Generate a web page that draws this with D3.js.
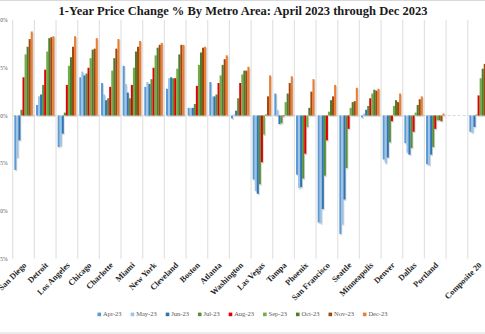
<!DOCTYPE html>
<html>
<head>
<meta charset="utf-8">
<script src="https://cdn.jsdelivr.net/npm/d3@7"></script>
<style>
    html, body { margin: 0; padding: 0; background: #fff; }
    svg { display: block; }
    .title { font-family: "Liberation Serif", "DejaVu Serif", serif; font-weight: bold; fill: #1a1a1a; }
    .y-axis text { font-family: "Liberation Serif", serif; font-size: 5.5px; fill: #595959; }
    .x-axis text { font-family: "Liberation Serif", serif; font-weight: bold; font-size: 8.3px; fill: #262626; }
    .legend text { font-family: "Liberation Serif", serif; font-size: 6.5px; fill: #595959; }
</style>
</head>
<body>
<script>
"use strict";

/*global d3*/

// Case-Shiller metro areas, left to right; "" leaves an empty slot before the composite
var categories = ["San Diego", "Detroit", "Los Angeles", "Chicago", "Charlotte", "Miami",
		  "New York", "Cleveland", "Boston", "Atlanta", "Washington", "Las Vegas",
		  "Tampa", "Phoenix", "San Francisco", "Seattle", "Minneapolis", "Denver",
		  "Dallas", "Portland", "", "Composite 20"],

    months = ["Apr-23", "May-23", "Jun-23", "Jul-23", "Aug-23", "Sep-23", "Oct-23", "Nov-23", "Dec-23"],

    // year-over-year change, % (one array per month, same order as categories)
    apr23 = [-5.7, 1.1, -3.3, 4.0, 3.4, 5.2, 3.0, 2.8, 0.8, 3.5, -0.3, -6.7, 2.3, -6.2, -11.2, -12.4, -0.2, -4.6, -2.9, -5.1, null, -1.7],
    may23 = [-4.4, 2.0, -3.2, 4.6, 2.2, 3.3, 3.5, 3.9, 0.8, 2.0, 0.1, -7.9, 0.6, -7.6, -11.3, -11.4, 0.2, -5.0, -3.9, -5.2, null, -1.8],
    jun23 = [-2.6, 2.2, -1.9, 4.2, 1.6, 2.4, 3.3, 4.0, 0.8, 2.0, 0.5, -8.2, -0.9, -7.5, -9.8, -8.8, 0.6, -4.4, -4.1, -4.1, null, -1.2],
    jul23 = [0.6, 3.2, 0.3, 4.4, 1.8, 1.8, 3.8, 3.9, 1.2, 2.2, 1.8, -7.2, -0.8, -6.6, -6.3, -5.5, 1.0, -2.8, -3.4, -3.3, null, 0.1],
    aug23 = [4.0, 4.8, 3.2, 5.0, 3.0, 3.2, 5.0, 3.9, 3.1, 3.4, 3.4, -4.9, -0.1, -4.0, -2.6, -1.4, 1.8, -0.6, -1.7, -1.4, null, 2.1],
    sep23 = [6.4, 6.7, 5.2, 6.0, 4.7, 5.0, 6.3, 4.9, 5.3, 4.2, 4.3, -2.0, 1.4, -1.2, 0.4, 0.8, 2.3, 1.0, 0.3, -0.5, null, 3.9],
    oct23 = [7.2, 8.1, 6.1, 6.9, 6.0, 6.7, 7.1, 6.4, 6.6, 5.3, 4.7, 0.1, 2.3, 0.8, 1.6, 1.4, 2.7, 1.6, 1.1, -0.5, null, 4.9],
    nov23 = [8.0, 8.2, 7.2, 7.0, 7.0, 7.2, 7.4, 7.4, 7.1, 5.9, 4.7, 2.0, 3.4, 2.5, 2.0, 1.5, 2.6, 1.4, 1.7, -0.6, null, 5.4],
    dec23 = [8.8, 8.3, 8.3, 8.1, 8.0, 7.8, 7.6, 7.4, 7.2, 6.3, 5.1, 4.2, 4.1, 3.8, 3.2, 2.9, 2.8, 2.3, 2.0, 0.2, null, 5.4],

    yTicks = [-15, -10, -5, 0, 5, 10],

    seriesValues = [apr23, may23, jun23, jul23, aug23, sep23, oct23, nov23, dec23],
    seriesColours = ["#5b9bd5", "#9dc3e6", "#2e75b6", "#5a8f3a", "#e00000",
		     "#70ad47", "#4e7d2e", "#9e480e", "#ed7d31"],

    width = 485,
    height = 334,
    plotLeft = 12.7,
    bandStep = 21.67,
    plotTop = 20,
    plotBottom = 258.7,
    groupPadding = 1.6;

var svg = d3.select("body").append("svg")
	.attr("width", width)
	.attr("height", height);

// chart area border
svg.append("rect")
    .attr("x", -1)
    .attr("y", 0.5)
    .attr("width", width + 2)
    .attr("height", height - 1.5)
    .attr("fill", "none")
    .attr("stroke", "#d9d9d9");

svg.append("text")
    .classed("title", true)
    .attr("x", 243)
    .attr("y", 14.5)
    .attr("text-anchor", "middle")
    .attr("font-size", 12.5)
    .text("1-Year Price Change % By Metro Area: April 2023 through Dec 2023");

var x0 = d3.scaleBand()
	.domain(categories)
	.range([plotLeft, plotLeft + bandStep * categories.length]),

    x1 = d3.scaleBand()
	.domain(months)
	.range([groupPadding, x0.bandwidth() - groupPadding]),

    y = d3.scaleLinear()
	.domain([-15, 10])
	.range([plotBottom, plotTop]);

// vertical gridlines between the metro groups
svg.append("g")
    .selectAll("line")
    .data(categories)
    .enter().append("line")
    .attr("x1", function(d) { return x0(d); })
    .attr("x2", function(d) { return x0(d); })
    .attr("y1", y(10))
    .attr("y2", y(-15))
    .attr("stroke", "#e2e2e2")
    .attr("stroke-width", 1.2);

svg.append("line")
    .attr("x1", plotLeft)
    .attr("x2", width)
    .attr("y1", y(0))
    .attr("y2", y(0))
    .attr("stroke", "#cfcfcf")
    .attr("stroke-width", 0.8)
    .attr("stroke-dasharray", "3,2");

var yAxis = svg.append("g")
	.classed("y-axis", true)
	.attr("transform", "translate(" + plotLeft + ",0)")
	.call(d3.axisLeft(y)
	      .tickValues(yTicks)
	      .tickSize(0)
	      .tickPadding(5)
	      .tickFormat(function(d) { return d + "%"; }));

yAxis.select(".domain").remove();

var xAxis = svg.append("g")
	.classed("x-axis", true)
	.attr("transform", "translate(0," + plotBottom + ")")
	.call(d3.axisBottom(x0).tickSize(0));

xAxis.select(".domain").remove();

xAxis.selectAll("text")
    .attr("x", 0)
    .attr("y", 0)
    .attr("dy", 0)
    .attr("text-anchor", "end")
    .attr("transform", "translate(3.5,7) rotate(-45)");

// one group per month; every bar carries a soft grey drop shadow
var series = svg.append("g")
	.selectAll("g.series")
	.data(months.map(function(m, i) {
	    return {
		month: m,
		colour: seriesColours[i],
		values: seriesValues[i]
	    };
	}))
	.enter().append("g")
	.classed("series", true);

var bars = series.selectAll("g.bar")
	.data(function(s) {
	    return s.values
		.map(function(v, i) {
		    return { month: s.month, colour: s.colour, category: categories[i], value: v };
		})
		.filter(function(d) { return d.value !== null; });
	})
	.enter().append("g")
	.classed("bar", true)
	.attr("transform", function(d) {
	    return "translate(" + (x0(d.category) + x1(d.month)) + ",0)";
	});

bars.append("rect")
    .attr("x", 0.9)
    .attr("y", function(d) { return Math.min(y(d.value), y(0)) + 1.4; })
    .attr("width", x1.bandwidth())
    .attr("height", function(d) { return Math.abs(y(d.value) - y(0)); })
    .attr("fill", "#b8b8b8")
    .attr("opacity", 0.55);

bars.append("rect")
    .attr("x", 0)
    .attr("y", function(d) { return Math.min(y(d.value), y(0)); })
    .attr("width", x1.bandwidth())
    .attr("height", function(d) { return Math.abs(y(d.value) - y(0)); })
    .attr("fill", function(d) { return d.colour; });

// legend, centred along the bottom
var legend = svg.append("g")
	.classed("legend", true),

    items = legend.selectAll("g")
	.data(months)
	.enter().append("g");

items.append("rect")
    .attr("width", 3.6)
    .attr("height", 3.6)
    .attr("y", -3.4)
    .attr("fill", function(d, i) { return seriesColours[i]; });

items.append("text")
    .attr("x", 5.5)
    .attr("y", 0)
    .text(function(d) { return d; });

var offsets = [],
    total = 0;

items.each(function() {
    var w = d3.select(this).select("text").node().getComputedTextLength() + 5.5;
    offsets.push(total);
    total += w + 9;
});
total -= 9;

items.attr("transform", function(d, i) {
    return "translate(" + (width / 2 - total / 2 + offsets[i]) + ",316)";
});
</script>
</body>
</html>
